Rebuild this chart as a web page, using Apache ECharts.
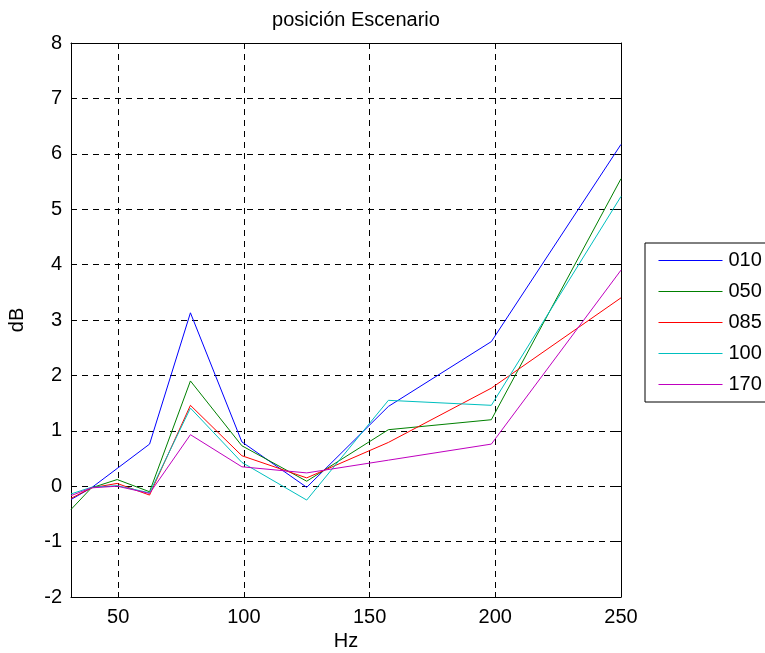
<!DOCTYPE html>
<html>
<head>
<meta charset="utf-8">
<script src="https://cdn.jsdelivr.net/npm/echarts@6/dist/echarts.min.js"></script>
<style>
  html, body { margin: 0; padding: 0; background: #fff; }
  #chart { width: 765px; height: 653px; }
</style>
</head>
<body>
<div id="chart"></div>
<script>
// One-third-octave band centres (Hz)
var freqs = [31.25, 39.37, 49.61, 62.5, 78.75, 99.21, 125, 157.49, 198.43, 250];

// Level difference per measurement point (dB)
var s010 = [-0.24, -0.03, 0.32, 0.76, 3.13, 0.80, -0.02, 1.44, 2.61, 6.17];
var s050 = [-0.42, -0.03, 0.12, -0.10, 1.90, 0.73, 0.09, 1.02, 1.20, 5.55];
var s085 = [-0.22, -0.03, 0.05, -0.16, 1.46, 0.55, 0.15, 0.79, 1.77, 3.40];
var s100 = [-0.14, -0.02, 0.01, -0.12, 1.41, 0.43, -0.25, 1.55, 1.46, 5.23];
var s170 = [-0.17, -0.03, 0.00, -0.13, 0.93, 0.35, 0.24, 0.47, 0.76, 3.90];

var seriesNames = ['010', '050', '085', '100', '170'];
var seriesColors = ['#0000ff', '#008000', '#ff0000', '#00bfbf', '#bf00bf'];
var seriesValues = [s010, s050, s085, s100, s170];

var xTicks = [50, 100, 150, 200, 250];
var yMin = -2, yMax = 8, yStep = 1;

var font = 'Liberation Sans, Arial, Helvetica, sans-serif';
var fs = 20;

function pairs(vals) {
  return freqs.map(function (f, i) { return [f, vals[i]]; });
}

var series = seriesNames.map(function (name, i) {
  return {
    name: name,
    type: 'line',
    data: pairs(seriesValues[i]),
    symbol: 'none',
    color: seriesColors[i],
    lineStyle: { color: seriesColors[i], width: 1 },
    itemStyle: { color: seriesColors[i] },
    animation: false,
    z: 3
  };
});

var gridLine = { show: true, lineStyle: { color: '#000', width: 1, type: [6, 5] } };

var chart = echarts.init(document.getElementById('chart'), null, { renderer: 'canvas' });
chart.setOption({
  animation: false,
  backgroundColor: '#fff',
  title: {
    text: 'posición Escenario',
    left: 351,
    textAlign: 'center',
    top: 5,
    textStyle: { fontFamily: font, fontSize: fs, fontWeight: 'normal', color: '#000' }
  },
  legend: {
    orient: 'vertical',
    left: 645,
    top: 243,
    data: seriesNames,
    itemWidth: 64,
    itemHeight: 21,
    itemGap: 10,
    padding: [7, 12, 7, 13],
    borderColor: '#000',
    borderWidth: 1,
    backgroundColor: '#fff',
    itemStyle: { opacity: 0 },
    lineStyle: { width: 1, color: 'inherit' },
    textStyle: { fontFamily: font, fontSize: fs, color: '#000', lineHeight: 21, padding: [0, 0, 0, 1] }
  },
  grid: { left: 71, right: 144, top: 43, bottom: 56, containLabel: false, outerBoundsMode: 'none' },
  xAxis: [
    {
      type: 'value',
      min: freqs[0],
      max: 250,
      name: 'Hz',
      nameLocation: 'middle',
      nameGap: 33,
      nameTextStyle: { fontFamily: font, fontSize: fs, color: '#000' },
      axisLine: { show: true, onZero: false, lineStyle: { color: '#000', width: 1 } },
      axisTick: { show: true, inside: true, length: 5, customValues: xTicks, lineStyle: { color: '#000' } },
      axisLabel: { customValues: xTicks, margin: 10, fontFamily: font, fontSize: fs, color: '#000' },
      splitLine: gridLine
    },
    {
      type: 'value',
      position: 'top',
      min: freqs[0],
      max: 250,
      axisLine: { show: true, onZero: false, lineStyle: { color: '#000', width: 1 } },
      axisTick: { show: true, inside: true, length: 5, customValues: xTicks, lineStyle: { color: '#000' } },
      axisLabel: { show: false },
      splitLine: { show: false }
    }
  ],
  yAxis: [
    {
      type: 'value',
      min: yMin,
      max: yMax,
      interval: yStep,
      name: 'dB',
      nameLocation: 'middle',
      nameGap: 44,
      nameTextStyle: { fontFamily: font, fontSize: fs, color: '#000' },
      axisLine: { show: true, onZero: false, lineStyle: { color: '#000', width: 1 } },
      axisTick: { show: true, inside: true, length: 5, lineStyle: { color: '#000' } },
      axisLabel: { margin: 9, fontFamily: font, fontSize: fs, color: '#000' },
      splitLine: gridLine
    },
    {
      type: 'value',
      position: 'right',
      min: yMin,
      max: yMax,
      interval: yStep,
      axisLine: { show: true, onZero: false, lineStyle: { color: '#000', width: 1 } },
      axisTick: { show: true, inside: true, length: 5, lineStyle: { color: '#000' } },
      axisLabel: { show: false },
      splitLine: { show: false }
    }
  ],
  series: series
});
</script>
</body>
</html>
